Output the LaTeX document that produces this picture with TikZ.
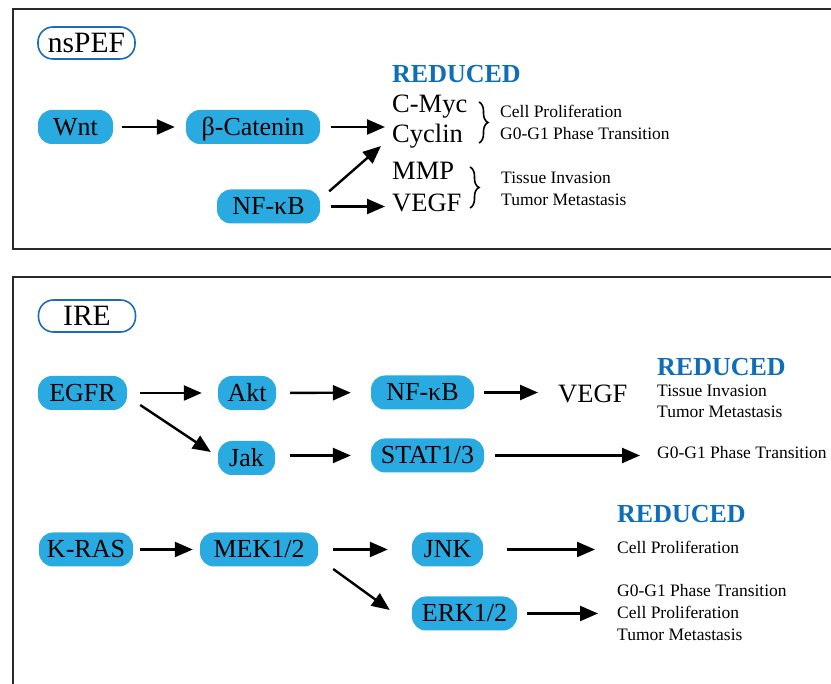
\documentclass[tikz,border=0pt]{standalone}
\usepackage{fontspec}
\setmainfont{Liberation Serif}
\usetikzlibrary{arrows.meta,calc,decorations.pathreplacing}
\definecolor{nodeblue}{HTML}{29AAE1}
\definecolor{redblue}{HTML}{106EB9}
\definecolor{pillblue}{HTML}{1C6DB5}
\definecolor{framegray}{HTML}{2A2A2A}
\begin{document}
\begin{tikzpicture}[x=1pt,y=-1pt,
  gene/.style={fill=nodeblue, rounded corners=14pt, minimum height=34pt, inner xsep=0pt, inner ysep=0pt, text height=19.5pt, text depth=3pt, font=\fontsize{26}{28}\selectfont},
  big/.style={inner sep=0pt, anchor=base west, font=\fontsize{26.5}{28}\selectfont},
  small/.style={inner sep=0pt, anchor=base west, font=\fontsize{17.5}{19}\selectfont},
  reduced/.style={inner sep=0pt, anchor=base west, text=redblue, font=\fontsize{26}{28}\selectfont\bfseries},
  arr/.style={line width=2.4pt, -{Triangle[length=18pt,width=15pt]}},
  pill/.style={draw=pillblue, line width=1.6pt, rounded corners=15pt, minimum width=97pt, minimum height=32pt, inner sep=0pt, text height=20pt, text depth=0pt, font=\fontsize{29.5}{30}\selectfont},
  framebox/.style={draw=framegray, line width=2pt},
  bracestyle/.style={line width=1.6pt, decorate, decoration={brace, amplitude=9pt}}
]
\useasboundingbox (0,0) rectangle (831,684);
\clip (0,0) rectangle (831,684);

% ---------- top panel ----------
\draw[framebox] (13,9) rectangle (860,249);
\node[pill] (ns) at (86.5,43) {nsPEF};
\node[gene, minimum width=75pt] (wnt) at (75.5,127) {Wnt};
\node[gene, minimum width=134pt] (bcat) at (253,127) {β-Catenin};
\node[gene, minimum width=103pt] (nfkb1) at (268.5,206.5) {NF-κB};

\node[reduced] (red1) at (392,83) {REDUCED};
\node[big] (cmyc) at (392,113) {C-Myc};
\node[big] (cyclin) at (392,143) {Cyclin};
\node[big] (mmp) at (392,180) {MMP};
\node[big] (vegf1) at (392,212) {VEGF};

\draw[bracestyle] (479,102) -- (479,143);
\draw[bracestyle] (470,167) -- (470,208);

\node[small] (t1) at (500,118) {Cell Proliferation};
\node[small] (t2) at (500,140) {G0-G1 Phase Transition};
\node[small] (t3) at (501,184) {Tissue Invasion};
\node[small] (t4) at (501,206) {Tumor Metastasis};

\coordinate (a1) at (385,127);
\coordinate (a2) at (385,206.5);
\coordinate (a3) at (381,146);
\draw[arr, shorten <=9pt, shorten >=11pt] (wnt) -- (bcat);
\draw[arr, shorten <=11pt] (bcat) -- (a1);
\draw[arr, shorten <=11pt] (nfkb1) -- (a2);
\draw[arr] ($(nfkb1.north east)+(9,2)$) -- (a3);

% ---------- bottom panel ----------
\draw[framebox] (13,277) rectangle (860,720);
\node[pill] (ire) at (87,316) {IRE};
\node[gene, minimum width=89pt] (egfr) at (82.5,393) {EGFR};
\node[gene, minimum width=58pt] (akt) at (247,393) {Akt};
\node[gene, minimum width=57pt] (jak) at (246.5,458) {Jak};
\node[gene, minimum width=103pt] (nfkb2) at (422.5,392.5) {NF-κB};
\node[gene, minimum width=113pt] (stat) at (427.5,455.5) {STAT1/3};
\node[big] (vegf2) at (558,403) {VEGF};

\node[reduced] (red2) at (657,376) {REDUCED};
\node[small] (u1) at (657,397) {Tissue Invasion};
\node[small] (u2) at (657,418) {Tumor Metastasis};
\node[small] (u3) at (657,459) {G0-G1 Phase Transition};

\coordinate (b1) at (640,455.5);
\draw[arr, shorten <=13pt, shorten >=16pt] (egfr) -- (akt);
\draw[arr] ($(egfr.east)+(13,12)$) -- ($(jak.west)+(-7,-6)$);
\draw[arr, shorten <=14pt, shorten >=20pt] (akt) -- (nfkb2);
\draw[arr, shorten <=15pt, shorten >=20pt] (jak.east |- stat) -- (stat.west);
\draw[arr, shorten <=10pt, shorten >=20pt] (nfkb2) -- (vegf2.west |- nfkb2);
\draw[arr, shorten <=11pt] (stat) -- (b1);

\node[gene, minimum width=94pt] (kras) at (86,549.5) {K-RAS};
\node[gene, minimum width=118pt] (mek) at (259,549.5) {MEK1/2};
\node[gene, minimum width=71pt] (jnk) at (447.5,549.5) {JNK};
\node[gene, minimum width=105pt] (erk) at (464.5,613.5) {ERK1/2};

\node[reduced] (red3) at (617,523) {REDUCED};
\node[small] (v1) at (617,554) {Cell Proliferation};
\node[small] (v2) at (617,597) {G0-G1 Phase Transition};
\node[small] (v3) at (617,619) {Cell Proliferation};
\node[small] (v4) at (617,641) {Tumor Metastasis};

\coordinate (c1) at (595,549.5);
\coordinate (c2) at (598,613.5);
\draw[arr, shorten <=7pt, shorten >=7pt] (kras) -- (mek);
\draw[arr, shorten <=15pt, shorten >=24pt] (mek) -- (jnk);
\draw[arr] ($(mek.east)+(15,19.5)$) -- ($(erk.west)+(-22,-3.5)$);
\draw[arr, shorten <=24pt] (jnk) -- (c1);
\draw[arr, shorten <=10pt] (erk) -- (c2);
\end{tikzpicture}
\end{document}
